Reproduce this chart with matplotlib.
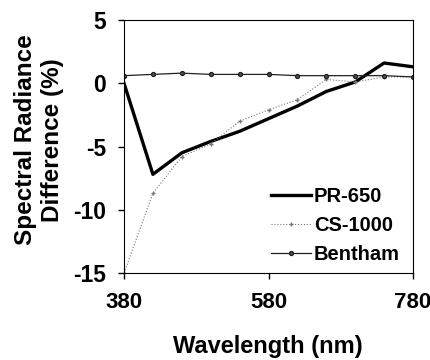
import matplotlib
matplotlib.use("Agg")
import matplotlib.pyplot as plt

wavelength = [380, 420, 460, 500, 540, 580, 620, 660, 700, 740, 780]
pr650 = [0.0, -7.2, -5.5, -4.6, -3.8, -2.8, -1.8, -0.65, 0.1, 1.6, 1.3]
cs1000 = [-15.0, -8.7, -5.8, -4.8, -3.0, -2.1, -1.3, 0.3, 0.1, 0.5, 0.5]
bentham = [0.6, 0.7, 0.8, 0.7, 0.7, 0.7, 0.6, 0.6, 0.6, 0.6, 0.5]

plt.rcParams['font.family'] = ['Liberation Sans', 'DejaVu Sans']
plt.rcParams['font.weight'] = 'bold'
plt.rcParams['axes.unicode_minus'] = False

fig = plt.figure(figsize=(4.31, 3.6), dpi=100)
ax = fig.add_axes([124/431, 1 - 273/360, 289/431, 253/360])

ax.plot(wavelength, pr650, color='black', lw=2.4, label='PR-650')
ax.plot(wavelength, cs1000, color='#777777', lw=0.8, ls=':', marker='+', ms=3.5, label='CS-1000')
ax.plot(wavelength, bentham, color='#222222', lw=0.9, marker='o', ms=2.8, mfc='#555555', label='Bentham')

ax.set_xlim(380, 780)
ax.set_ylim(-15, 5)
ax.set_xticks([380, 580, 780])
ax.set_yticks([-15, -10, -5, 0, 5])
ax.tick_params(axis='x', labelsize=16, direction='out', length=4, width=1, pad=10)
ax.tick_params(axis='y', labelsize=16.5, direction='out', length=4, width=1, pad=9)
for lab in ax.get_xticklabels() + ax.get_yticklabels():
    lab.set_fontweight('bold')

# axis titles placed by hand to match the original layout
fig.text(268/431, 1 - 346/360, 'Wavelength (nm)', fontsize=17, fontweight='bold',
         ha='center', va='center')
fig.text(39/431, 1 - 140/360, 'Spectral Radiance\nDifference (%)', fontsize=17.5,
         fontweight='bold', rotation=90, ha='center', va='center',
         multialignment='center', linespacing=1.2)

leg = ax.legend(loc='lower right', bbox_to_anchor=(0.955, 0.035), frameon=False,
                fontsize=14.5, handlelength=2.0, handletextpad=0.15,
                borderaxespad=0, borderpad=0, labelspacing=0.5)

fig.savefig('out.png', dpi=100)
